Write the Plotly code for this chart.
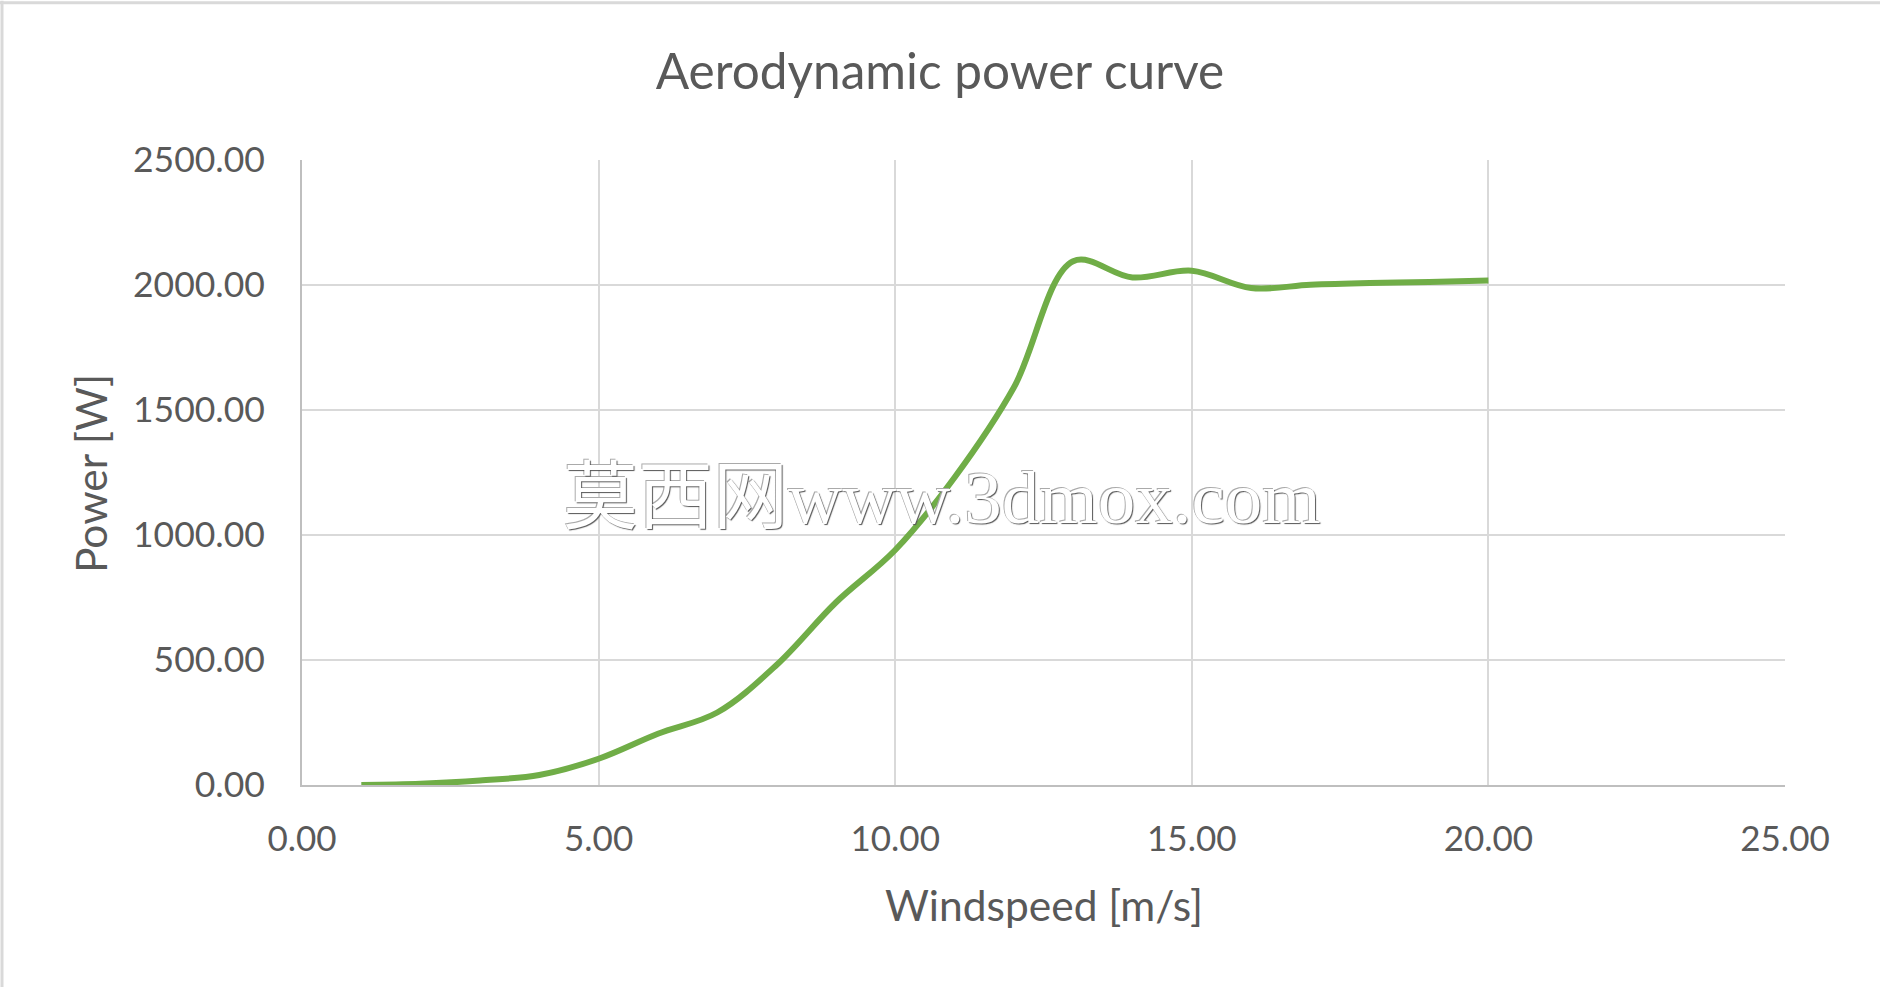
import plotly.graph_objects as go

# ---- data ----
windspeed = [1, 2, 3, 4, 5, 6, 7, 8, 9, 10, 11, 12, 13, 14, 15, 16, 17, 18, 19, 20]
power = [0, 5, 18, 40, 105, 205, 290, 480, 730, 940, 1230, 1590, 2095, 2030, 2057, 1988, 2001, 2008, 2012, 2018]

x_ticks = [0, 5, 10, 15, 20, 25]
y_ticks = [0, 500, 1000, 1500, 2000, 2500]

title_text = "Aerodynamic power curve"
x_title = "Windspeed [m/s]"
y_title = "Power [W]"
watermark = "莫西网www.3dmox.com"

W, H = 1880, 987
L, R, T, B = 302, 1785, 159.5, 785.4

text_color = "#595959"
grid_color = "#D9D9D9"
font_family = "Lato, 'Open Sans', sans-serif"

fig = go.Figure()
fig.add_trace(go.Scatter(
    x=windspeed, y=power, mode="lines",
    line=dict(color="#70AD47", width=6, shape="spline", smoothing=1.0),
    showlegend=False, hoverinfo="x+y",
))

def px_x(p):
    return (p - L) / (R - L)

def px_y(p):
    return (B - p) / (B - T)

fig.update_layout(
    width=W, height=H,
    margin=dict(l=L, r=W - R, t=T, b=H - B, pad=0),
    paper_bgcolor="white", plot_bgcolor="white",
    font=dict(family=font_family, color=text_color),
    title=dict(text=title_text, x=0.5, xanchor="center",
               y=1 - 72 / H, yanchor="middle",
               font=dict(size=49.5, color=text_color, family=font_family)),
    xaxis=dict(range=[0, 25], tickvals=x_ticks, tickformat=".2f",
               showgrid=True, gridcolor=grid_color, gridwidth=2,
               zeroline=False, showline=True, linecolor="#BFBFBF", linewidth=2,
               ticks="", ticklabelstandoff=22,
               tickfont=dict(size=35, color=text_color), fixedrange=True),
    yaxis=dict(range=[0, 2500], tickvals=y_ticks, tickformat=".2f",
               showgrid=True, gridcolor=grid_color, gridwidth=2,
               zeroline=False, showline=True, linecolor="#BFBFBF", linewidth=2,
               ticks="", ticklabelstandoff=28,
               tickfont=dict(size=35.5, color=text_color), fixedrange=True),
    annotations=[
        dict(text=x_title, xref="paper", yref="paper",
             x=0.5, y=px_y(905), xanchor="center", yanchor="middle",
             showarrow=False, font=dict(size=42.5, color=text_color)),
        dict(text=y_title, xref="paper", yref="paper",
             x=px_x(90), y=px_y(474), xanchor="center", yanchor="middle",
             textangle=-90, showarrow=False, font=dict(size=42.5, color=text_color)),
        dict(text=watermark, xref="paper", yref="paper",
             x=px_x(942), y=px_y(497), xanchor="center", yanchor="middle",
             showarrow=False,
             font=dict(size=75, color="white",
                       family="'Liberation Serif', 'Noto Sans CJK SC', serif",
                       shadow="1px 1px 1px #555, -1px -1px 0px #aaa")),
    ],
    shapes=[
        dict(type="line", xref="paper", yref="paper",
             x0=px_x(2), x1=px_x(2), y0=px_y(0), y1=px_y(H + 10),
             line=dict(color=grid_color, width=3), layer="above"),
        dict(type="line", xref="paper", yref="paper",
             x0=px_x(0), x1=px_x(W + 10), y0=px_y(2), y1=px_y(2),
             line=dict(color=grid_color, width=3), layer="above"),
    ],
)

fig.write_html("out.html")
